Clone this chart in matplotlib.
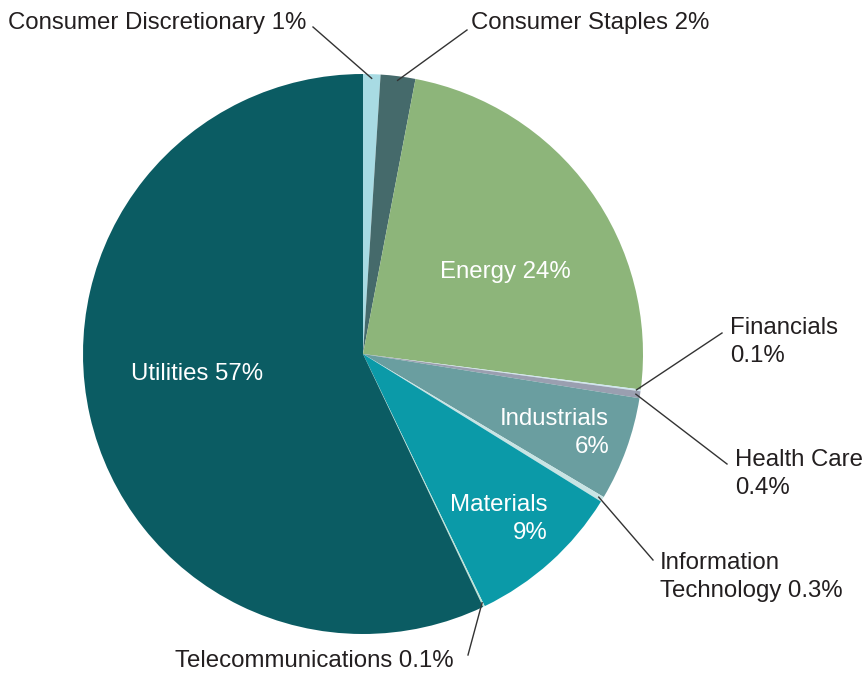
import numpy as np
import matplotlib.pyplot as plt

plt.rcParams['font.family'] = ['Liberation Sans', 'DejaVu Sans']

sectors = ['Consumer Discretionary', 'Consumer Staples', 'Energy', 'Financials',
           'Health Care', 'Industrials', 'Information Technology', 'Materials',
           'Telecommunications', 'Utilities']
shares = [1, 2, 24, 0.1, 0.4, 6, 0.3, 9, 0.1, 57]
colors = ['#a8dbe3', '#456a6b', '#8db57a', '#cfe6ef', '#9a9fb0',
          '#6a9ea0', '#c8e4e4', '#0b9aa8', '#bde3d8', '#0b5c63']

W, H = 864, 673
CX, CY, R = 363, H - 354, 280

fig = plt.figure(figsize=(W / 100, H / 100), dpi=100)
ax = fig.add_axes([0, 0, 1, 1])

wedges, _ = ax.pie(shares, colors=colors, startangle=90, counterclock=False,
                   center=(CX, CY), radius=R, frame=True,
                   wedgeprops=dict(linewidth=0))
ax.set_xlim(0, W)
ax.set_ylim(0, H)
ax.axis('off')

FS = 17.3
TXT = '#231f20'

# labels inside slices (white)
inside = {
    'Energy': ('Energy 24%', 505, 272, 'center'),
    'Utilities': ('Utilities 57%', 197, 374, 'center'),
    'Industrials': ('Industrials\n6%', 609, 433, 'right'),
    'Materials': ('Materials\n9%', 548, 519, 'right'),
}
for key, (s, x, y, ha) in inside.items():
    ax.text(x, H - y, s, color='white', fontsize=FS, ha=ha, va='center',
            linespacing=1.3)

# outside labels with leader lines: text pos, ha, line end
outside = {
    'Consumer Discretionary': ('Consumer Discretionary 1%', 8, 23, 'left', (313, 27)),
    'Consumer Staples': ('Consumer Staples 2%', 471, 23, 'left', (467, 30)),
    'Financials': ('Financials\n0.1%', 730, 342, 'left', (722, 333)),
    'Health Care': ('Health Care\n0.4%', 735, 474, 'left', (727, 464)),
    'Information Technology': ('Information\nTechnology 0.3%', 660, 577, 'left', (653, 560)),
    'Telecommunications': ('Telecommunications 0.1%', 175, 661, 'left', (468, 655)),
}
for w, name in zip(wedges, sectors):
    if name not in outside:
        continue
    s, x, y, ha, (ex, ey) = outside[name]
    ang = np.deg2rad((w.theta1 + w.theta2) / 2)
    sx = CX + R * 0.985 * np.cos(ang)
    sy = CY + R * 0.985 * np.sin(ang)
    ax.plot([sx, ex], [sy, H - ey], color='#333333', lw=1.0)
    ax.text(x, H - y, s, color=TXT, fontsize=FS, ha=ha, va='center',
            linespacing=1.3)

fig.savefig('out.png', dpi=100)
